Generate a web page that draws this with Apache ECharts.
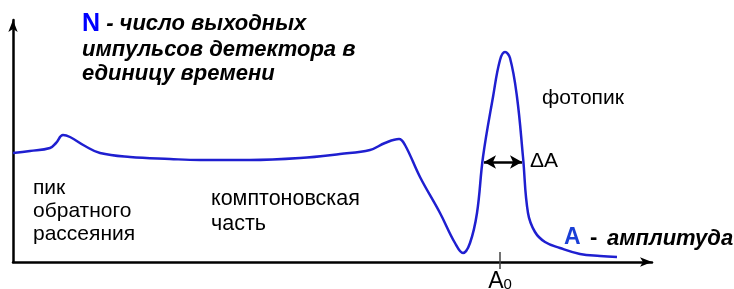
<!DOCTYPE html>
<html>
<head>
<meta charset="utf-8">
<script src="https://cdn.jsdelivr.net/npm/echarts@6/dist/echarts.min.js"></script>
<style>
html, body { margin: 0; padding: 0; background: #fff; }
#chart { width: 734px; height: 289px; }
</style>
</head>
<body>
<div id="chart"></div>
<script>
// amplitude (arbitrary units) and count rate N
const amplitude = [0, 17, 37, 43, 50, 57, 72, 87, 117, 157, 187, 237, 287, 327, 357, 372, 386, 392, 407, 427, 442, 450, 457, 464, 470, 480, 487, 492, 497, 504, 510, 515, 522, 532, 547, 567, 587, 604];
const counts = [109, 111, 114, 119, 127, 125, 116, 109, 105, 103, 102, 102, 104, 108, 112, 119, 123, 117, 85, 49, 19, 9, 19, 49, 105, 165, 202, 210, 204, 165, 105, 49, 30, 20, 14, 8, 6, 5];
const photopeakPos = [487];
const widthLevel = 100;
const widthEdges = [471, 509];

const font = '"Liberation Sans", Arial, sans-serif';
const chart = echarts.init(document.getElementById('chart'));

const option = {
	animation: false,
	grid: { left: 13, right: 82, top: 20, bottom: 27, containLabel: false, outerBoundsMode: 'none' },
	xAxis: [
		{
			type: 'value',
			min: 0,
			max: 639,
			axisLine: {
				onZero: false,
				symbol: ['none', 'arrow'],
				symbolSize: [7, 12],
				lineStyle: { color: '#000', width: 2.5 }
			},
			axisTick: { show: true, customValues: photopeakPos, length: 7, lineStyle: { color: '#444', width: 1.5 } },
			axisLabel: {
				customValues: photopeakPos,
				margin: 8,
				formatter: () => '{a|A}{s|0}',
				rich: {
					a: { fontFamily: font, fontSize: 23, color: '#000' },
					s: { fontFamily: font, fontSize: 15, color: '#000', padding: [7, 0, 0, 0] }
				}
			},
			splitLine: { show: false }
		},
		{
			type: 'value',
			min: 0,
			max: 639,
			position: 'bottom',
			axisLine: { show: false },
			axisTick: { show: true, inside: true, customValues: photopeakPos, length: 10, lineStyle: { color: '#444', width: 1.5 } },
			axisLabel: { show: false },
			splitLine: { show: false }
		}
	],
	yAxis: {
		type: 'value',
		min: 0,
		max: 242,
		axisLine: {
			show: true,
			symbol: ['none', 'arrow'],
			symbolSize: [7, 12],
			lineStyle: { color: '#000', width: 2.5 }
		},
		axisTick: { show: false },
		axisLabel: { show: false },
		splitLine: { show: false }
	},
	series: [
		{
			type: 'line',
			data: amplitude.map((x, i) => [x, counts[i]]),
			smooth: 0.4,
			showSymbol: false,
			lineStyle: { color: '#1f1fd0', width: 2.5 },
			markLine: {
				silent: true,
				symbol: ['arrow', 'arrow'],
				symbolSize: [10, 12],
				label: { show: false },
				lineStyle: { color: '#000', width: 2.5, type: 'solid' },
				data: [[{ coord: [widthEdges[0], widthLevel] }, { coord: [widthEdges[1], widthLevel] }]]
			}
		}
	],
	graphic: [
		{
			type: 'text', x: 82, y: 24,
			style: {
				text: '{n|N}{t| - число выходных}',
				verticalAlign: 'middle',
				rich: {
					n: { fontFamily: font, fontSize: 25, fontWeight: 'bold', fill: '#0000ff' },
					t: { fontFamily: font, fontSize: 22, fontWeight: 'bold', fontStyle: 'italic', fill: '#000' }
				}
			}
		},
		{ type: 'text', x: 82, y: 50, style: { text: 'импульсов детектора в', font: 'italic bold 22px ' + font, fill: '#000', verticalAlign: 'middle' } },
		{ type: 'text', x: 82, y: 74, style: { text: 'единицу времени', font: 'italic bold 22px ' + font, fill: '#000', verticalAlign: 'middle' } },
		{ type: 'text', x: 542, y: 98, style: { text: 'фотопик', font: '21px ' + font, fill: '#000', verticalAlign: 'middle' } },
		{ type: 'text', x: 530, y: 161, style: { text: 'ΔA', font: '21px ' + font, fill: '#000', verticalAlign: 'middle' } },
		{ type: 'text', x: 33, y: 188, style: { text: 'пик', font: '21px ' + font, fill: '#000', verticalAlign: 'middle' } },
		{ type: 'text', x: 33, y: 211, style: { text: 'обратного', font: '21px ' + font, fill: '#000', verticalAlign: 'middle' } },
		{ type: 'text', x: 33, y: 234, style: { text: 'рассеяния', font: '21px ' + font, fill: '#000', verticalAlign: 'middle' } },
		{ type: 'text', x: 211, y: 199, style: { text: 'комптоновская', font: '21.5px ' + font, fill: '#000', verticalAlign: 'middle' } },
		{ type: 'text', x: 211, y: 224, style: { text: 'часть', font: '21.5px ' + font, fill: '#000', verticalAlign: 'middle' } },
		{ type: 'text', x: 564, y: 238, style: { text: 'A', font: 'bold 23px ' + font, fill: '#1a3fd6', verticalAlign: 'middle' } },
		{ type: 'text', x: 590, y: 238, style: { text: '-', font: 'bold 22px ' + font, fill: '#000', verticalAlign: 'middle' } },
		{ type: 'text', x: 607, y: 239, style: { text: 'амплитуда', font: 'italic bold 22px ' + font, fill: '#000', verticalAlign: 'middle' } }
	]
};

chart.setOption(option);
</script>
</body>
</html>
